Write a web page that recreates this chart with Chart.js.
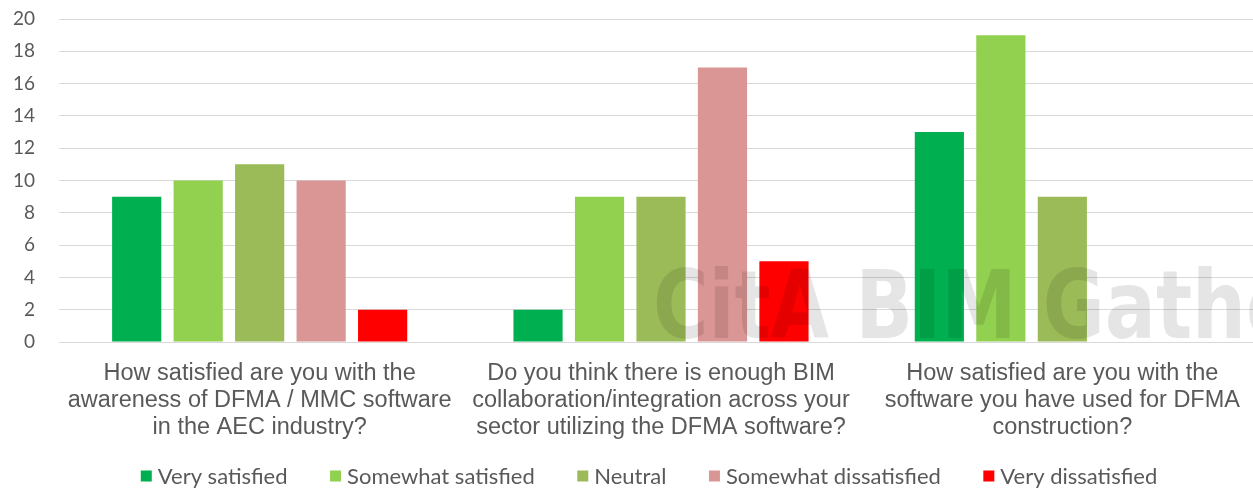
<!DOCTYPE html>
<html>
<head>
<meta charset="utf-8">
<script src="https://cdn.jsdelivr.net/npm/chart.js@4.4.1/dist/chart.umd.min.js"></script>
<style>
  html, body { margin: 0; padding: 0; background: #fff; overflow: hidden; }
  #wrap { width: 1270px; height: 488px; }
</style>
</head>
<body>
<div id="wrap"><canvas id="c" width="1270" height="488"></canvas></div>
<script>
// Survey questions (multi-line category labels)
const categories = [
  ["How satisfied are you with the", "awareness of DFMA / MMC software", "in the AEC industry?"],
  ["Do you think there is enough BIM", "collaboration/integration across your", "sector utilizing the DFMA software?"],
  ["How satisfied are you with the", "software you have used for DFMA", "construction?"]
];

// Response counts per answer option
const seriesNames = ["Very satisfied", "Somewhat satisfied", "Neutral", "Somewhat dissatisfied", "Very dissatisfied"];
const verySatisfied        = [9, 2, 13];
const somewhatSatisfied    = [10, 9, 19];
const neutral              = [11, 9, 9];
const somewhatDissatisfied = [10, 17, 0];
const veryDissatisfied     = [2, 5, 0];
const seriesColors = ["#00b050", "#92d050", "#9bbb59", "#da9694", "#ff0000"];

const yTicks = { min: 0, max: 20, step: 2 };
const watermarkText = "CitA BIM Gathering";

const seriesValues = [verySatisfied, somewhatSatisfied, neutral, somewhatDissatisfied, veryDissatisfied];

const TEXT = "#595959";

// Faint watermark drawn over the bars
const watermark = {
  id: "watermark",
  afterDatasetsDraw(chart) {
    const ctx = chart.ctx;
    ctx.save();
    ctx.translate(653, 338);
    ctx.scale(0.885, 1);
    ctx.font = 'bold 95px "DejaVu Sans Condensed"';
    ctx.fillStyle = "rgba(0,0,0,0.10)";
    ctx.textBaseline = "alphabetic";
    ctx.textAlign = "left";
    ctx.fillText(watermarkText, 0, 0);
    ctx.restore();
  }
};

// Legend row along the bottom
const bottomLegend = {
  id: "bottomLegend",
  afterDraw(chart) {
    const ctx = chart.ctx;
    ctx.save();
    ctx.font = '22px Lato';
    const box = 11, boxGap = 6, itemGap = 42.5;
    const widths = seriesNames.map(n => ctx.measureText(n).width);
    const total = widths.reduce((a, w) => a + box + boxGap + w, 0) + itemGap * (seriesNames.length - 1);
    let x = 649 - total / 2;
    const y = 476;
    ctx.textBaseline = "middle";
    seriesNames.forEach((n, i) => {
      ctx.fillStyle = seriesColors[i];
      ctx.fillRect(x, y - box / 2, box, box);
      x += box + boxGap;
      ctx.fillStyle = TEXT;
      ctx.fillText(n, x, y + 1);
      x += widths[i] + itemGap;
    });
    ctx.restore();
  }
};

new Chart(document.getElementById("c"), {
  type: "bar",
  data: {
    labels: categories,
    datasets: seriesNames.map((name, i) => ({
      label: name,
      data: seriesValues[i],
      backgroundColor: seriesColors[i],
      borderWidth: 0,
      categoryPercentage: 0.766,
      barPercentage: 0.8
    }))
  },
  options: {
    responsive: false,
    animation: false,
    layout: { padding: { top: 19, right: 7, left: 0, bottom: 0 } },
    plugins: { legend: { display: false }, tooltip: { enabled: false } },
    scales: {
      x: {
        grid: { display: false },
        border: { display: false },
        ticks: {
          color: TEXT,
          font: { family: '"Liberation Sans"', size: 23.5, lineHeight: '27px' },
          maxRotation: 0, minRotation: 0, autoSkip: false, padding: 10
        },
        afterFit(s) { s.height = 146; s.paddingTop = 0; s.paddingBottom = 0; }
      },
      y: {
        min: yTicks.min, max: yTicks.max,
        grid: { color: "#d9d9d9", lineWidth: 1, drawTicks: false },
        border: { display: false },
        ticks: {
          stepSize: yTicks.step, color: TEXT, padding: 24,
          font: { family: 'Lato', size: 19 }
        },
        afterFit(s) { s.width = 59; s.paddingTop = 0; s.paddingBottom = 0; }
      }
    }
  },
  plugins: [watermark, bottomLegend]
});
</script>
</body>
</html>
